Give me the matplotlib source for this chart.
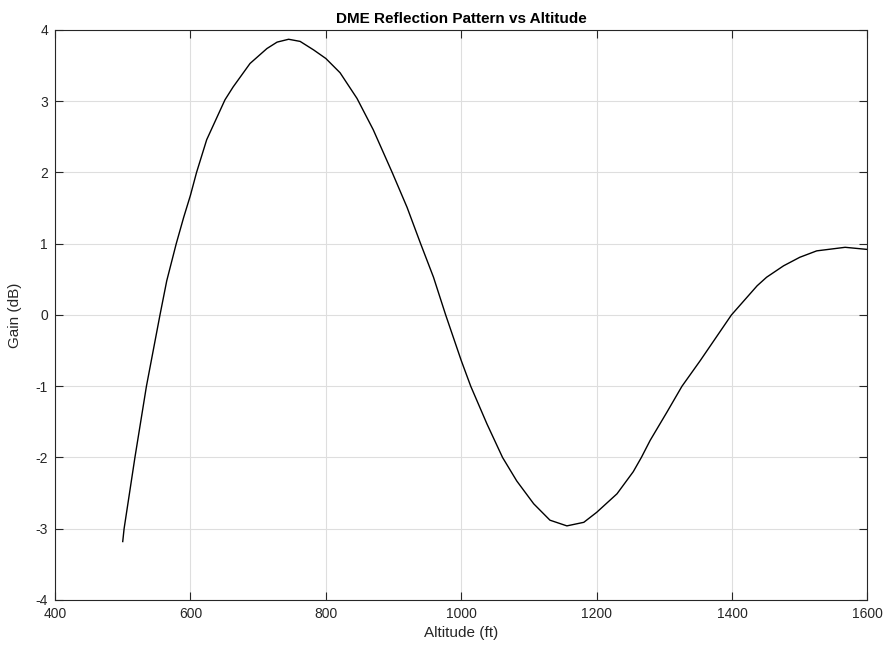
import matplotlib.pyplot as plt

# Gain of the DME reflection pattern, read at these altitudes
altitude_ft = [500, 502, 518, 535, 555, 565, 579, 590, 600, 609, 624, 651, 663, 688,
               713, 728, 745, 762, 782, 800, 821, 846, 870, 898, 920, 940, 959, 977,
               1000, 1014, 1038, 1061, 1082, 1107, 1131, 1156, 1181, 1200, 1230, 1254,
               1266, 1279, 1304, 1326, 1353, 1399, 1437, 1451, 1476, 1500, 1525, 1567,
               1600]
gain_db = [-3.18, -3.00, -2.00, -1.00, 0.00, 0.48, 1.00, 1.37, 1.68, 2.00, 2.46, 3.02,
           3.20, 3.53, 3.74, 3.83, 3.87, 3.84, 3.72, 3.60, 3.40, 3.04, 2.60, 2.00, 1.51,
           1.00, 0.53, 0.00, -0.64, -1.00, -1.53, -2.00, -2.33, -2.65, -2.88, -2.96,
           -2.91, -2.77, -2.51, -2.20, -2.00, -1.76, -1.36, -1.00, -0.64, 0.00, 0.41,
           0.53, 0.69, 0.81, 0.90, 0.95, 0.92]

x_ticks = [400, 600, 800, 1000, 1200, 1400, 1600]
y_ticks = [-4, -3, -2, -1, 0, 1, 2, 3, 4]

plt.rcParams['font.family'] = ['Liberation Sans', 'DejaVu Sans']
plt.rcParams['axes.unicode_minus'] = False

axis_color = '#262626'

fig = plt.figure(figsize=(8.89, 6.55), dpi=100)
ax = fig.add_axes([0.0619, 0.084, 0.9139, 0.8702])

ax.plot(altitude_ft, gain_db, color='black', linewidth=1.0)

ax.set_xlim(400, 1600)
ax.set_ylim(-4, 4)
ax.set_xticks(x_ticks)
ax.set_yticks(y_ticks)

ax.grid(True, color='#dedede', linewidth=0.8)
ax.set_axisbelow(True)

ax.tick_params(direction='in', length=5.5, width=0.8, top=True, right=True,
               labelsize=10, colors=axis_color, pad=5)
for side in ax.spines.values():
    side.set_color(axis_color)
    side.set_linewidth(0.8)

ax.set_title('DME Reflection Pattern vs Altitude', fontsize=11, fontweight='bold',
             color='black', pad=5)
ax.set_xlabel('Altitude (ft)', fontsize=11, color=axis_color, labelpad=4)
ax.set_ylabel('Gain (dB)', fontsize=11, color=axis_color, labelpad=10)

fig.savefig('out.png', dpi=100, facecolor='white')
